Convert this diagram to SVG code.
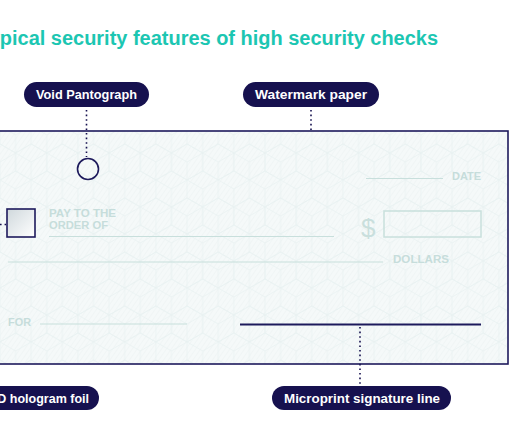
<svg xmlns="http://www.w3.org/2000/svg" width="530" height="442" viewBox="0 0 530 442">
<style>
.title{font-family:"Liberation Sans",Arial,sans-serif;font-weight:bold;font-size:20px;fill:#1cc6b2}
.pill{fill:#16114f}
.pt{font-family:"Liberation Sans",Arial,sans-serif;font-weight:bold;font-size:12.5px;fill:#ffffff;text-anchor:middle}
.lt{font-family:"Liberation Sans",Arial,sans-serif;font-weight:bold;font-size:11.5px;fill:#c6dddb}
.fl{stroke:#c8dfdc;stroke-width:1.2;fill:none}
.dot{stroke:#16114f;stroke-width:1.6;stroke-dasharray:1.6 3;fill:none}
.nv{stroke:#1d1a5c;stroke-width:1.6;fill:none}
</style>
<defs>
<pattern id="cube" width="31.18" height="54" patternUnits="userSpaceOnUse">
<path d="M0,-18 L15.59,-9 L15.59,9 L0,18 L-15.59,9 L-15.59,-9Z M0,0V18 M0,0L15.59,-9 M0,0L-15.59,-9 M31.18,-18 L46.77,-9 L46.77,9 L31.18,18 L15.59,9 L15.59,-9Z M31.18,0V18 M31.18,0L46.77,-9 M31.18,0L15.59,-9 M0,36 L15.59,45 L15.59,63 L0,72 L-15.59,63 L-15.59,45Z M0,54V72 M0,54L15.59,45 M0,54L-15.59,45 M31.18,36 L46.77,45 L46.77,63 L31.18,72 L15.59,63 L15.59,45Z M31.18,54V72 M31.18,54L46.77,45 M31.18,54L15.59,45 M15.59,9 L31.18,18 L31.18,36 L15.59,45 L0,36 L0,18Z M15.59,27V45 M15.59,27L31.18,18 M15.59,27L0,18" stroke="#e9f1f1" stroke-width="0.8" fill="none"/>
</pattern>
<pattern id="hatch" width="4" height="4" patternUnits="userSpaceOnUse" patternTransform="rotate(35)">
<line x1="0" y1="0" x2="0" y2="4" stroke="#ebf2f2" stroke-width="1"/>
</pattern>
<linearGradient id="foil" x1="0" y1="0" x2="1" y2="1">
<stop offset="0" stop-color="#cfd8dc"/>
<stop offset="1" stop-color="#ffffff"/>
</linearGradient>
</defs>
<rect width="530" height="442" fill="#ffffff"/>
<text class="title" x="-22" y="45" textLength="460" lengthAdjust="spacingAndGlyphs">Typical security features of high security checks</text>

<g id="check">
<rect x="-10" y="131" width="518" height="233" fill="#f5f9f9"/>
<rect x="-10" y="131" width="518" height="233" fill="url(#hatch)"/>
<rect x="-10" y="131" width="518" height="233" fill="url(#cube)"/>
<rect x="-10" y="131" width="518" height="233" class="nv"/>
<line x1="366" y1="178.5" x2="443" y2="178.5" class="fl"/>
<text class="lt" x="452" y="180" textLength="29" lengthAdjust="spacingAndGlyphs">DATE</text>
<text class="lt" x="49" y="217" textLength="67" lengthAdjust="spacingAndGlyphs">PAY TO THE</text>
<text class="lt" x="49" y="229" textLength="59" lengthAdjust="spacingAndGlyphs">ORDER OF</text>
<line x1="49" y1="236.5" x2="334" y2="236.5" class="fl"/>
<text x="361" y="237" font-family="Liberation Sans,Arial,sans-serif" font-size="26" fill="#c9dfdd">$</text>
<rect x="384" y="211" width="97" height="26" stroke="#c8dfdc" stroke-width="1.5" fill="none"/>
<line x1="8" y1="262" x2="383" y2="262" class="fl"/>
<text class="lt" x="393" y="263" textLength="56" lengthAdjust="spacingAndGlyphs">DOLLARS</text>
<text class="lt" x="8" y="326" textLength="23" lengthAdjust="spacingAndGlyphs">FOR</text>
<line x1="40" y1="324" x2="187" y2="324" class="fl"/>
</g>

<g id="void-pantograph">
<circle cx="88" cy="169" r="10.5" class="nv"/>
<rect class="pill" x="24" y="82" width="125" height="25" rx="12.5"/>
<text class="pt" x="86.5" y="99" textLength="101" lengthAdjust="spacingAndGlyphs">Void Pantograph</text>
</g>
<g id="watermark-paper">
<rect class="pill" x="243" y="82" width="136" height="25" rx="12.5"/>
<text class="pt" x="311" y="99" textLength="112" lengthAdjust="spacingAndGlyphs">Watermark paper</text>
</g>
<g id="hologram-foil">
<rect x="7" y="209" width="28" height="28" class="nv" style="fill:url(#foil)"/>
<rect class="pill" x="-40" y="386" width="139" height="24" rx="12"/>
<text class="pt" x="89" y="402.5" style="text-anchor:end">3D hologram foil</text>
</g>
<g id="microprint-signature-line">
<line x1="240" y1="324.5" x2="481" y2="324.5" stroke="#1d1a5c" stroke-width="1.8"/>
<rect class="pill" x="272" y="386" width="179" height="24" rx="12"/>
<text class="pt" x="362" y="402.5" textLength="156" lengthAdjust="spacingAndGlyphs">Microprint signature line</text>
</g>

<g id="connectors">
<line x1="86.5" y1="110" x2="86.5" y2="157" class="dot"/>
<line x1="311" y1="110" x2="311" y2="130" class="dot"/>
<line x1="0" y1="224.5" x2="6" y2="224.5" class="dot"/>
<line x1="360" y1="327" x2="360" y2="384" class="dot"/>
</g>
</svg>
